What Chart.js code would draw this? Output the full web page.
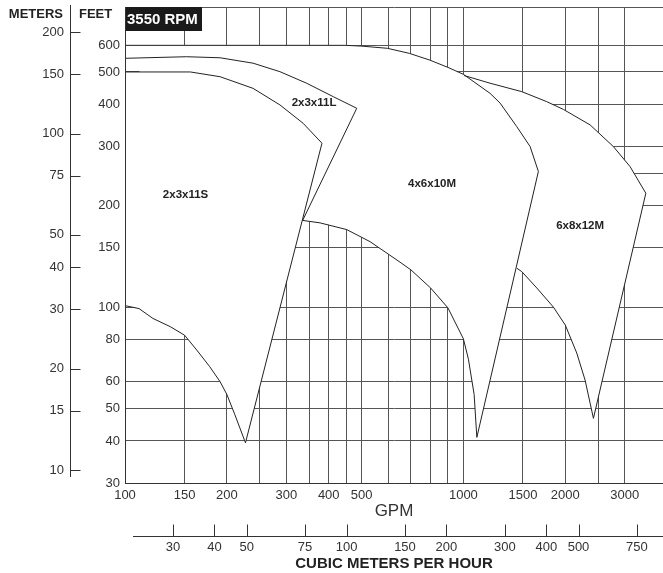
<!DOCTYPE html>
<html>
<head>
<meta charset="utf-8">
<script src="https://cdn.jsdelivr.net/npm/chart.js@4.4.0/dist/chart.umd.min.js"></script>
<style>
  html, body { margin: 0; padding: 0; background: #fff; }
  #wrap { width: 663px; height: 573px; }
</style>
</head>
<body>
<div id="wrap"><canvas id="myChart"></canvas></div>
<script>
// grid and tick values
var gpmTicks = [100, 150, 200, 250, 300, 350, 400, 450, 500, 600, 700, 800, 900, 1000, 1500, 2000, 2500, 3000];
var gpmLabels = [100, 150, 200, 300, 400, 500, 1000, 1500, 2000, 3000];
var feetTicks = [30, 40, 50, 60, 80, 100, 150, 200, 250, 300, 400, 500, 600, 780];
var feetLabels = [30, 40, 50, 60, 80, 100, 150, 200, 300, 400, 500, 600];
var meterTicks = [10, 15, 20, 30, 40, 50, 75, 100, 150, 200];
var cmhTicks = [30, 40, 50, 75, 100, 150, 200, 300, 400, 500, 750];

// pump outlines (GPM, feet of head), traced from the top left
var pumpNames = ["2x3x11S", "2x3x11L", "4x6x10M", "6x8x12M"];
var s11Gpm = [100, 156, 191, 239, 287, 336, 382, 227, 211, 200, 191, 178, 163, 150, 136, 121, 110, 100];
var s11Feet = [500, 500, 484, 447, 399, 352, 307, 39.5, 48, 55, 60, 66.5, 74.5, 82.5, 87.5, 92.5, 99, 101];
var l11Gpm = [100, 152, 191, 239, 287, 344, 413, 484, 335];
var l11Feet = [549, 555, 551, 531, 501, 463, 422, 390, 181];
var m10Gpm = [100, 447, 498, 596, 692, 793, 900, 1000, 1199, 1284, 1438, 1575, 1666,
              1096, 1076, 1035, 1000, 900, 800, 700, 650, 530, 452, 377, 335];
var m10Feet = [600, 600, 597, 588, 568, 543, 516, 492, 432, 404, 344, 300, 253,
               41, 55, 70, 80.5, 99.5, 114, 129, 136, 156.5, 170, 178, 181];
var m12Gpm = [1005, 1199, 1488, 1764, 1975, 2369, 2776, 3110, 3461, 2423, 2369, 2289, 2163, 2000, 1845, 1648, 1488, 1438];
var m12Feet = [488, 463, 437, 408, 387, 348, 300, 261.5, 218, 46.7, 51.8, 60.7, 73, 88.5, 100, 114, 127.5, 130.5];

// where the pump names sit
var nameGpm = [151, 362, 808, 2213];
var nameFeet = [215, 404, 232, 174];

var FT_PER_M = 3.2808;
var font = '"Liberation Sans", Arial, Helvetica, sans-serif';
Chart.defaults.font.family = font;
Chart.defaults.color = "#333";

function fixedTicks(values) {
  return function (scale) {
    scale.ticks = values.map(function (v) { return { value: v }; });
  };
}
function labelOnly(list) {
  return function (v) { return list.indexOf(v) >= 0 ? String(v) : ""; };
}
function fitTo(width, height) {
  return function (scale) {
    if (width) scale.width = width;
    if (height) scale.height = height;
    scale.paddingTop = 0; scale.paddingBottom = 0;
    scale.paddingLeft = 0; scale.paddingRight = 0;
  };
}
function outline(gpm, feet) {
  return gpm.map(function (g, i) { return { x: g, y: feet[i] }; });
}

var outlines = [[s11Gpm, s11Feet], [l11Gpm, l11Feet], [m10Gpm, m10Feet], [m12Gpm, m12Feet]];

var decorations = {
  id: "decorations",
  afterDatasetsDraw: function (chart) {
    var ctx = chart.ctx, area = chart.chartArea;
    var x = chart.scales.x, y = chart.scales.y;
    ctx.save();
    ctx.fillStyle = "#222";
    ctx.font = "bold 11.5px " + font;
    ctx.textAlign = "center";
    ctx.textBaseline = "middle";
    pumpNames.forEach(function (name, i) {
      ctx.fillText(name, x.getPixelForValue(nameGpm[i]), y.getPixelForValue(nameFeet[i]));
    });
    // speed tag
    ctx.fillStyle = "#1a1a1a";
    ctx.fillRect(area.left, area.top, 77, 24);
    ctx.fillStyle = "#fff";
    ctx.font = "bold 15px " + font;
    ctx.textAlign = "left";
    ctx.fillText("3550 RPM", area.left + 2, area.top + 12.5);
    ctx.restore();
  },
  afterDraw: function (chart) {
    var ctx = chart.ctx, area = chart.chartArea;
    var m = chart.scales.meters, c = chart.scales.cmh;
    ctx.save();
    ctx.strokeStyle = "#333";
    ctx.lineWidth = 1;
    ctx.beginPath();
    // meters axis line with inward ticks
    var mx = Math.round(m.right) + 0.5;
    ctx.moveTo(mx, area.top - 2);
    ctx.lineTo(mx, area.bottom - 6);
    m.ticks.forEach(function (t) {
      var py = Math.round(m.getPixelForValue(t.value)) + 0.5;
      ctx.moveTo(mx, py);
      ctx.lineTo(mx + 10, py);
    });
    // cubic meters per hour axis line with upward ticks
    var cy = Math.round(c.top + 13) + 0.5;
    ctx.moveTo(area.left + 8, cy);
    ctx.lineTo(area.right, cy);
    c.ticks.forEach(function (t) {
      var px = Math.round(c.getPixelForValue(t.value)) + 0.5;
      ctx.moveTo(px, cy);
      ctx.lineTo(px, cy - 12);
    });
    ctx.stroke();
    // axis headers
    ctx.fillStyle = "#222";
    ctx.font = "bold 13px " + font;
    ctx.textBaseline = "middle";
    ctx.textAlign = "right";
    ctx.fillText("METERS", m.right - 7, 14);
    ctx.textAlign = "left";
    ctx.fillText("FEET", m.right + 9, 14);
    ctx.restore();
  }
};

var ctx = document.getElementById("myChart").getContext("2d");
var chart = new Chart(ctx, {
  type: "line",
  data: {
    datasets: outlines.map(function (o, i) {
      return {
        label: pumpNames[i],
        data: outline(o[0], o[1]),
        fill: "shape",
        backgroundColor: "#fff",
        borderColor: "#222",
        borderWidth: 1,
        pointRadius: 0,
        tension: 0
      };
    })
  },
  options: {
    responsive: true,
    maintainAspectRatio: false,
    animation: false,
    layout: { padding: { top: 7, left: 0, right: 0, bottom: 0 } },
    plugins: {
      legend: { display: false },
      tooltip: { enabled: false },
      filler: { drawTime: "beforeDatasetsDraw" }
    },
    scales: {
      x: {
        type: "logarithmic",
        position: "bottom",
        bounds: "data",
        min: 100,
        max: 3890,
        afterBuildTicks: fixedTicks(gpmTicks),
        afterFit: fitTo(0, 40),
        grid: { color: "#555", lineWidth: 1, drawTicks: false },
        border: { color: "#333", z: 1 },
        ticks: { callback: labelOnly(gpmLabels), autoSkip: false, maxRotation: 0, padding: 5, font: { size: 13 }, color: "#333" },
        title: { display: true, text: "GPM", font: { size: 17 }, color: "#333", padding: { top: 0, bottom: 1 } }
      },
      cmh: {
        type: "logarithmic",
        axis: "x",
        position: "bottom",
        weight: 1,
        bounds: "data",
        min: 21.5,
        max: 898.6,
        afterBuildTicks: fixedTicks(cmhTicks),
        afterFit: fitTo(0, 50),
        grid: { display: false, drawTicks: false },
        border: { display: false },
        ticks: { callback: function (v) { return String(v); }, autoSkip: false, maxRotation: 0, padding: 17, font: { size: 13 }, color: "#333" },
        title: { display: true, text: "CUBIC METERS PER HOUR", font: { size: 15, weight: "bold" }, color: "#222", padding: { top: 0, bottom: 0 } }
      },
      y: {
        type: "logarithmic",
        position: "left",
        bounds: "data",
        min: 30,
        max: 780,
        afterBuildTicks: fixedTicks(feetTicks),
        afterFit: fitTo(55, 0),
        grid: { color: "#555", lineWidth: 1, drawTicks: false },
        border: { color: "#333", z: 1 },
        ticks: { callback: labelOnly(feetLabels), autoSkip: false, padding: 5, font: { size: 13 }, color: "#333" }
      },
      meters: {
        type: "logarithmic",
        axis: "y",
        position: "left",
        weight: 1,
        bounds: "data",
        min: 30 / FT_PER_M,
        max: 780 / FT_PER_M,
        afterBuildTicks: fixedTicks(meterTicks),
        afterFit: fitTo(70, 0),
        grid: { display: false, drawTicks: false },
        border: { display: false },
        ticks: { callback: function (v) { return String(v); }, autoSkip: false, padding: 6, font: { size: 13 }, color: "#333" }
      }
    }
  },
  plugins: [decorations]
});
</script>
</body>
</html>
